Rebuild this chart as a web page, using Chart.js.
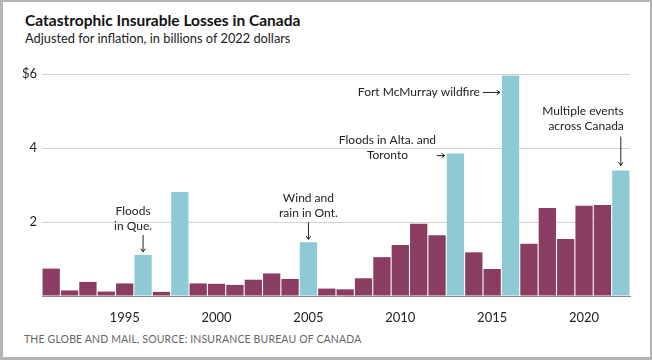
<!DOCTYPE html>
<html>
<head>
<meta charset="utf-8">
<script src="https://cdn.jsdelivr.net/npm/chart.js@4.4.0/dist/chart.umd.min.js"></script>
<style>
  body { margin: 0; background: #fff; font-family: 'Lato', sans-serif; }
  #frame {
    position: absolute; left: 0; top: 0; width: 652px; height: 360px;
    box-sizing: border-box; border: 2px solid #b4b4b4; border-left-width: 3px; border-bottom-width: 3px;
  }
  #title { position: absolute; left: 25px; top: 11px; font-size: 15.5px; font-weight: 700; color: #111; }
  #subtitle { position: absolute; left: 25px; top: 30px; font-size: 12.8px; color: #222; }
  #source { position: absolute; left: 24px; top: 333px; font-size: 10.5px; color: #666; letter-spacing: 0.15px; }
  #chart { position: absolute; left: 0; top: 0; }
</style>
</head>
<body>
<div id="frame"></div>
<div id="title">Catastrophic Insurable Losses in Canada</div>
<div id="subtitle">Adjusted for inflation, in billions of 2022 dollars</div>
<div id="source">THE GLOBE AND MAIL, SOURCE: INSURANCE BUREAU OF CANADA</div>
<canvas id="chart" width="652" height="360"></canvas>

<script>
/* --- Data --- */
const years = [1991, 1992, 1993, 1994, 1995, 1996, 1997, 1998, 1999, 2000,
               2001, 2002, 2003, 2004, 2005, 2006, 2007, 2008, 2009, 2010,
               2011, 2012, 2013, 2014, 2015, 2016, 2017, 2018, 2019, 2020,
               2021, 2022];
const losses = [0.74, 0.15, 0.38, 0.12, 0.34, 1.11, 0.11, 2.81, 0.34, 0.33,
                0.30, 0.44, 0.61, 0.46, 1.45, 0.20, 0.18, 0.48, 1.05, 1.38,
                1.95, 1.64, 3.85, 1.18, 0.73, 5.96, 1.41, 2.38, 1.54, 2.44,
                2.46, 3.39];
const eventYears = [1996, 1998, 2005, 2013, 2016, 2022];
const yTicks = [0, 2, 4, 6];

// annotations: text lines + which bar they point at
const notes = [
    { year: 1996, lines: ['Floods', 'in Que.'], kind: 'down' },
    { year: 2005, lines: ['Wind and', 'rain in Ont.'], kind: 'down' },
    { year: 2013, lines: ['Floods in Alta. and', 'Toronto'], kind: 'left' },
    { year: 2016, lines: ['Fort McMurray wildfire'], kind: 'leftInline' },
    { year: 2022, lines: ['Multiple events', 'across Canada'], kind: 'downRight' }
];

const MAROON = '#8a3c61';
const TEAL = '#8ecad4';

/* --- Annotation plugin --- */
function drawArrow(ctx, x1, y1, x2, y2) {
    const ang = Math.atan2(y2 - y1, x2 - x1);
    ctx.beginPath();
    ctx.moveTo(x1, y1);
    ctx.lineTo(x2, y2);
    ctx.moveTo(x2 - 4 * Math.cos(ang - 0.6), y2 - 4 * Math.sin(ang - 0.6));
    ctx.lineTo(x2, y2);
    ctx.lineTo(x2 - 4 * Math.cos(ang + 0.6), y2 - 4 * Math.sin(ang + 0.6));
    ctx.stroke();
}

const notePlugin = {
    id: 'notes',
    afterDatasetsDraw(chart) {
        const ctx = chart.ctx;
        const xs = chart.scales.x, ys = chart.scales.y;
        const meta = chart.getDatasetMeta(0);
        ctx.save();
        ctx.font = "12px 'Lato', sans-serif";
        ctx.fillStyle = '#222';
        ctx.strokeStyle = '#222';
        ctx.lineWidth = 1;
        ctx.textBaseline = 'middle';
        notes.forEach(n => {
            const i = years.indexOf(n.year);
            const bar = meta.data[i];
            const cx = xs.getPixelForValue(i);
            const top = ys.getPixelForValue(losses[i]);
            const left = cx - bar.width / 2;
            if (n.kind === 'down') {
                const shift = n.year === 1996 ? -10 : 0;
                ctx.textAlign = 'center';
                n.lines.forEach((t, k) => ctx.fillText(t, cx + shift, top - 44 + k * 15));
                drawArrow(ctx, cx, top - 20, cx, top - 3);
            } else if (n.kind === 'left') {
                ctx.textAlign = 'center';
                n.lines.forEach((t, k) => ctx.fillText(t, cx - 68, top - 13 + k * 15));
                drawArrow(ctx, left - 10, top + 2, left - 2, top + 2);
            } else if (n.kind === 'leftInline') {
                ctx.textAlign = 'right';
                ctx.fillText(n.lines[0], left - 22, top + 17);
                drawArrow(ctx, left - 19, top + 17, left - 2, top + 17);
            } else if (n.kind === 'downRight') {
                ctx.textAlign = 'right';
                n.lines.forEach((t, k) => ctx.fillText(t, cx + 3, top - 59 + k * 15));
                drawArrow(ctx, cx, top - 34, cx, top - 5);
            }
        });
        ctx.restore();
    }
};

/* --- Chart --- */
new Chart(document.getElementById('chart'), {
    type: 'bar',
    data: {
        labels: years,
        datasets: [{
            data: losses,
            backgroundColor: years.map(y => eventYears.includes(y) ? TEAL : MAROON),
            borderWidth: 0,
            categoryPercentage: 1,
            barPercentage: 0.94
        }]
    },
    options: {
        responsive: false,
        devicePixelRatio: 1,
        animation: false,
        layout: { padding: { top: 74, right: 22, bottom: 0, left: 0 } },
        plugins: { legend: { display: false }, tooltip: { enabled: false } },
        scales: {
            x: {
                grid: { display: false },
                border: { display: true, color: '#8a8a8a', width: 1 },
                ticks: {
                    autoSkip: false,
                    maxRotation: 0,
                    padding: 6,
                    color: '#222',
                    font: { family: 'Lato', size: 13 },
                    callback: (v, i) => years[i] % 5 === 0 ? String(years[i]) : ''
                },
                afterFit: s => { s.height = 64; }
            },
            y: {
                min: 0,
                max: 6,
                afterBuildTicks: s => { s.ticks = yTicks.map(v => ({ value: v })); },
                grid: {
                    drawTicks: false,
                    color: c => c.tick && c.tick.value === 0 ? 'rgba(0,0,0,0)' : '#d4d4d4'
                },
                border: { display: false },
                ticks: {
                    padding: 5,
                    color: '#222',
                    font: { family: 'Lato', size: 13 },
                    callback: v => v === 0 ? '' : (v === 6 ? '$6' : String(v))
                },
                afterFit: s => { s.width = 42; }
            }
        }
    },
    plugins: [notePlugin]
});
</script>
</body>
</html>
